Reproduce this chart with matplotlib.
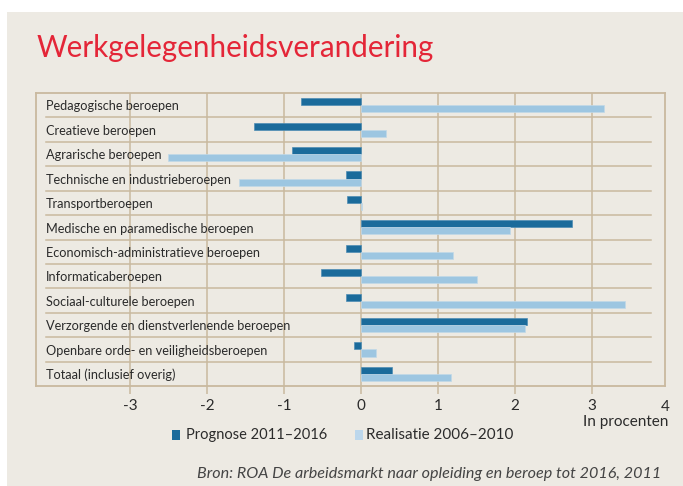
import matplotlib
matplotlib.use("Agg")
from matplotlib import pyplot as plt
from matplotlib import transforms
from matplotlib.patches import Rectangle
import numpy as np

categories = [
    "Pedagogische beroepen",
    "Creatieve beroepen",
    "Agrarische beroepen",
    "Technische en industrieberoepen",
    "Transportberoepen",
    "Medische en paramedische beroepen",
    "Economisch-administratieve beroepen",
    "Informaticaberoepen",
    "Sociaal-culturele beroepen",
    "Verzorgende en dienstverlenende beroepen",
    "Openbare orde- en veiligheidsberoepen",
    "Totaal (inclusief overig)",
]
prognose = [-0.78, -1.39, -0.90, -0.19, -0.18, 2.74, -0.19, -0.52, -0.19, 2.16, -0.09, 0.41]
realisatie = [3.16, 0.32, -2.51, -1.58, 0.02, 1.94, 1.20, 1.51, 3.43, 2.13, 0.20, 1.17]
xticks = [-3, -2, -1, 0, 1, 2, 3, 4]

BG = "#edeae3"
GRID = "#c9b99f"
DARK = "#1b6b9b"
LIGHT = "#9dc6e1"
TEXT = "#2b2b2b"
RED = "#e42638"

plt.rcParams['font.family'] = ['Lato', 'DejaVu Sans']

fig = plt.figure(figsize=(6.83, 4.86), dpi=100)
fig.patch.set_facecolor("white")
fig.patches.append(Rectangle((7 / 683, 0), 1, 1 - 12 / 486, transform=fig.transFigure,
                             facecolor=BG, edgecolor="none", zorder=-5))

ax = fig.add_axes([36 / 683, 1 - 386 / 486, 629 / 683, 293 / 486], zorder=2)
ax.set_facecolor(BG)

y = np.arange(len(categories))
ax.barh(y - 0.14, prognose, height=0.29, color=DARK, zorder=3,
        edgecolor="#4f8db5", linewidth=0.5)
ax.barh(y + 0.15, realisatie, height=0.29, color=LIGHT, zorder=3,
        edgecolor="#c2d9e8", linewidth=0.5)

ax.set_xlim(-4.22, 3.95)
ax.set_ylim(len(categories) - 0.5, -0.5)

for t in xticks[:-1]:
    ax.axvline(t, color=GRID, linewidth=1.1, zorder=1)
for i in range(len(categories) - 1):
    ax.axhline(i + 0.5, xmin=10 / 629, xmax=615 / 629, color=GRID, linewidth=1.1, zorder=1)

for s in ax.spines.values():
    s.set_color(GRID)
    s.set_linewidth(1.3)

ax.set_yticks([])
ax.set_xticks(xticks[:-1])
ax.set_xticklabels([str(t) for t in xticks[:-1]], fontsize=11, color=TEXT)
ax.tick_params(axis="x", length=6, color=GRID, width=1.1, pad=3)
# the last tick sits on the right border, so it is written by hand
ax.text(1.0, -0.048, str(xticks[-1]), transform=ax.transAxes, ha="center", va="top",
        fontsize=11, color=TEXT)

trans = transforms.blended_transform_factory(ax.transAxes, ax.transData)
for i, c in enumerate(categories):
    ax.text(10 / 629, i + 0.05, c, transform=trans, ha="left", va="center",
            fontsize=9.2, color=TEXT, zorder=4)

fig.text(37 / 683, 1 - 48 / 486, "Werkgelegenheidsverandering", fontsize=21.3,
         color=RED, ha="left", va="center")
fig.text(668 / 683, 1 - 422 / 486, "In procenten", fontsize=11, color=TEXT,
         ha="right", va="center")

fig.patches.append(Rectangle((172 / 683, 1 - 440 / 486), 8 / 683, 10 / 486,
                             transform=fig.transFigure, facecolor=DARK, edgecolor="none"))
fig.text(186 / 683, 1 - 435 / 486, "Prognose 2011–2016", fontsize=10.5, color=TEXT,
         ha="left", va="center")
fig.patches.append(Rectangle((355 / 683, 1 - 440 / 486), 8 / 683, 10 / 486,
                             transform=fig.transFigure, facecolor="#bcd7ec", edgecolor="none"))
fig.text(366 / 683, 1 - 435 / 486, "Realisatie 2006–2010", fontsize=11, color=TEXT,
         ha="left", va="center")

fig.text(661 / 683, 1 - 474 / 486,
         "Bron: ROA De arbeidsmarkt naar opleiding en beroep tot 2016, 2011",
         fontsize=11.6, style="italic", color="#444444", ha="right", va="center")

fig.savefig("out.png", dpi=100, facecolor=fig.get_facecolor())
